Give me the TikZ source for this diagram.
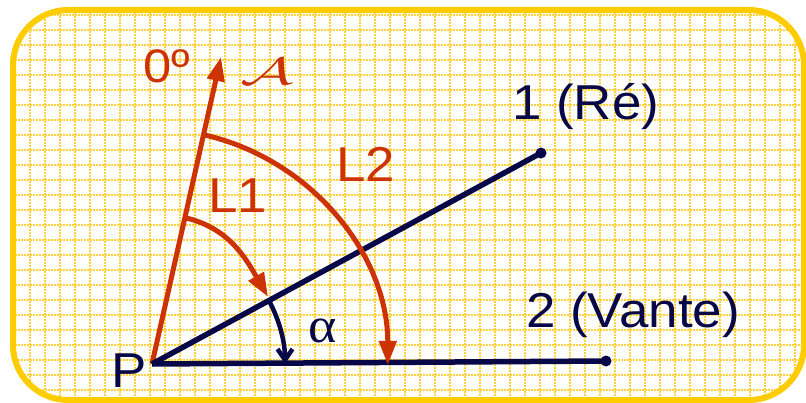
\documentclass[tikz,border=0pt]{standalone}
\usepackage{fontspec}
\setmainfont{Liberation Sans}[FakeStretch=1.08]
\newfontfamily\greekfont{Liberation Serif}[FakeStretch=1.08]
\usetikzlibrary{arrows.meta,calc}
\definecolor{rouge}{RGB}{204,51,0}
\definecolor{navy}{RGB}{8,8,72}
\definecolor{jaune}{RGB}{255,204,0}
\definecolor{grille}{RGB}{255,210,60}
\begin{document}
\begin{tikzpicture}[x=1pt,y=1pt,
  redline/.style={draw=rouge,line width=5pt},
  navyline/.style={draw=navy,line width=5.5pt},
  lbl/.style={inner sep=0pt,anchor=base west,font=\fontsize{49}{50}\selectfont},
  redlbl/.style={lbl,text=rouge},
  navylbl/.style={lbl,text=navy},
  enddot/.style={circle,fill=navy,inner sep=0pt,minimum size=11pt},
  tri/.style={-{Triangle[length=24pt,width=17pt]}},
  gridline/.style={grille,line width=1.6pt,dash pattern=on 1.6pt off 1.4pt}
]
\useasboundingbox (0,0) rectangle (806,402);
% background and grid
\begin{scope}
  \clip[rounded corners=55pt] (13,2) rectangle (804,392);
  \fill[white] (0,0) rectangle (806,402);
  \foreach \x in {15,30,...,795} \draw[gridline] (\x,0) -- (\x,402);
  \foreach \y in {12,27,...,390} \draw[gridline] (0,\y) -- (806,\y);
\end{scope}
\draw[jaune,line width=6pt,rounded corners=55pt] (13,2) rectangle (804,392);

% points
\coordinate (P) at (152,38);
\coordinate (A) at (221,345);
\node[enddot] (R1) at (541,249) {};
\node[enddot] (R2) at (606,41) {};
\coordinate (L1s) at ($(P)+(77.35:150pt)$);
\coordinate (L1e) at ($(P)+(30:134pt)$);
\coordinate (L2s) at ($(P)+(77.35:235pt)$);
\coordinate (Als) at ($(P)+(28.5:133pt)$);

% axis and directions
\draw[redline,tri] (P) -- (A);
\draw[navyline] (P) -- (R1.center);
\draw[navyline] (P) -- (R2.center);

% arcs
\draw[redline,tri] (L1s) to[out=-13,in=120] (L1e);
\draw[navy,line width=4.5pt,-{Straight Barb[length=11pt,width=15pt]}] (Als) arc[start angle=28.5,end angle=0,radius=133pt];
\draw[redline,tri] (L2s) arc[start angle=77.35,end angle=0,radius=236pt];

% labels
\node[redlbl,font=\fontsize{47}{48}\selectfont] (zero) at (143,319) {0º};
\node[inner sep=0pt,anchor=base west,text=rouge] (calA) at (240,317) {\resizebox{53pt}{26pt}{$\mathcal{A}$}};
\node[redlbl] (lL1) at (208,189) {L1};
\node[redlbl] (lL2) at (336,220) {L2};
\node[navylbl] (lR1) at (512,282) {1 (Ré)};
\node[navylbl] (lR2) at (526,75) {2 (Vante)};
\node[navylbl] (lP) at (111,15) {P};
\node[inner sep=0pt,anchor=base west,text=navy,font=\greekfont\fontsize{50}{52}\selectfont] (alpha) at (308,60) {α};
\end{tikzpicture}
\end{document}
